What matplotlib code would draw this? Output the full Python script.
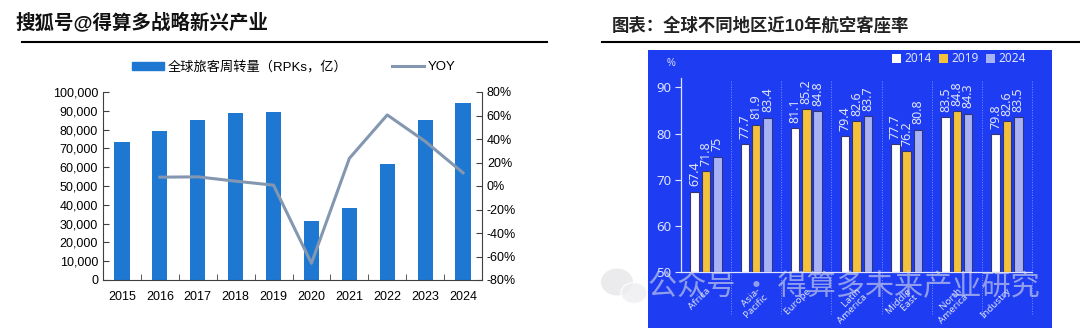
import matplotlib
matplotlib.use("Agg")
import matplotlib.pyplot as plt
import numpy as np
from matplotlib.patches import Rectangle, Ellipse, Patch
from matplotlib.lines import Line2D
from matplotlib.ticker import FuncFormatter, FixedLocator

plt.rcParams['font.family'] = ['Liberation Sans', 'Noto Sans CJK SC', 'DejaVu Sans']

# left chart: global RPKs (亿) and YOY
years = ['2015', '2016', '2017', '2018', '2019', '2020', '2021', '2022', '2023', '2024']
rpks = [73500, 79000, 85200, 88700, 89300, 31200, 38500, 61500, 84900, 94300]
yoy = [None, 7.5, 7.8, 4.1, 0.7, -65.8, 23.5, 60.5, 38.0, 11.2]

# right chart: load factor by region
regions = ['Africa', 'Asia-\nPacific', 'Europe', 'Latin\nAmerica', 'Middle\nEast', 'North\nAmerica', 'Industry']
lf_years = ['2014', '2019', '2024']
lf_2014 = [67.4, 77.7, 81.1, 79.4, 77.7, 83.5, 79.8]
lf_2019 = [71.8, 81.9, 85.2, 82.6, 76.2, 84.8, 82.6]
lf_2024 = [75, 83.4, 84.8, 83.7, 80.8, 84.3, 83.5]

W, H = 1080, 330
fig = plt.figure(figsize=(10.8, 3.3), dpi=100)
fig.patch.set_facecolor('white')


def fx(px):
    return px / W


def fy(py):
    return 1 - py / H


# ---- headers
fig.text(fx(15), fy(22), '搜狐号@得算多战略新兴产业', fontsize=14, fontweight='bold',
         color='#111111', va='center', ha='left')
fig.add_artist(Line2D([fx(22), fx(547)], [fy(42), fy(42)], color='black', lw=1.5))
fig.text(fx(612), fy(25), '图表：全球不同地区近10年航空客座率', fontsize=12.5, fontweight='bold',
         color='#222222', va='center', ha='left')
fig.add_artist(Line2D([fx(602), fx(1080)], [fy(42), fy(42)], color='black', lw=1.5))

# ---- left chart
bar_c = '#1E78D2'
line_c = '#8497B0'
ax = fig.add_axes([fx(103), fy(280), fx(482) - fx(103), fy(92) - fy(280)])
x = np.arange(len(years))
ax.bar(x, rpks, width=0.4, color=bar_c, zorder=2)
ax.set_xlim(-0.5, len(years) - 0.5)
ax.set_ylim(0, 100000)
ax.set_yticks(np.arange(0, 100001, 10000))
ax.yaxis.set_major_formatter(FuncFormatter(lambda v, p: f'{int(v):,}'))
ax.set_xticks(x)
ax.set_xticklabels(years)
ax.xaxis.set_minor_locator(FixedLocator(np.arange(0.5, len(years) - 1, 1)))
ax.tick_params(axis='x', which='major', length=0, pad=8, labelsize=9)
ax.tick_params(axis='x', which='minor', length=4, direction='in', color='#404040')
ax.tick_params(axis='y', length=4, direction='in', labelsize=9, color='#404040')
for s in ['top', 'right']:
    ax.spines[s].set_visible(False)
for s in ['left', 'bottom']:
    ax.spines[s].set_color('#404040')

ax2 = ax.twinx()
yx = [i for i, v in enumerate(yoy) if v is not None]
yv = [v for v in yoy if v is not None]
ax2.plot(yx, yv, color=line_c, lw=2.2, zorder=3)
ax2.set_ylim(-80, 80)
ax2.set_yticks(np.arange(-80, 81, 20))
ax2.yaxis.set_major_formatter(FuncFormatter(lambda v, p: f'{int(v)}%'))
ax2.tick_params(axis='y', length=4, direction='in', labelsize=9, color='#404040')
for s in ['top', 'left', 'bottom']:
    ax2.spines[s].set_visible(False)
ax2.spines['right'].set_color('#404040')

handles = [Patch(color=bar_c), Line2D([0], [0], color=line_c, lw=2.2)]
fig.legend(handles, ['全球旅客周转量（RPKs，亿）', 'YOY'], loc='center left',
           bbox_to_anchor=(fx(120), fy(67)), ncol=2, frameon=False, fontsize=9.5,
           handlelength=2.4, handleheight=0.6, columnspacing=3.4, handletextpad=0.3)

# ---- right chart
bg = '#1E3DF2'
light = '#dfe3ff'
fig.add_artist(Rectangle((fx(648), fy(328)), fx(1052) - fx(648), fy(50) - fy(328),
                         transform=fig.transFigure, facecolor=bg, edgecolor='none', zorder=0))

rx = fig.add_axes([fx(681), fy(272.3), fx(1032) - fx(681), fy(78) - fy(272.3)])
rx.set_facecolor('none')
g = np.arange(len(regions))
off = 0.227
bw = 0.17
cols = ['#ffffff', '#F4C13A', '#A8B3F5']
edge = '#34347a'
for k, (vals, c) in enumerate(zip([lf_2014, lf_2019, lf_2024], cols)):
    pos = g + (k - 1) * off
    rx.bar(pos, np.array(vals) - 50, bottom=50, width=bw, color=c, edgecolor=edge,
           linewidth=0.8, zorder=3)
    for p, v in zip(pos, vals):
        rx.annotate(f'{v:g}', (p, v), xytext=(0, 4), textcoords='offset points',
                    rotation=90, ha='center', va='bottom', fontsize=9, color=light,
                    family=['Noto Sans', 'DejaVu Sans'])

rx.set_xlim(-0.5, len(regions) - 0.5)
rx.set_ylim(50, 92)
rx.set_yticks([50, 60, 70, 80, 90])
rx.set_xticks(g)
rx.set_xticklabels(regions, rotation=45, ha='right', va='top', rotation_mode='anchor',
                   fontsize=7, color=light, linespacing=1.0, family=['Noto Sans', 'DejaVu Sans'])
rx.tick_params(axis='x', length=0, pad=10)
rx.tick_params(axis='y', length=4, direction='out', color=light, labelcolor=light,
               labelsize=9.5, pad=3)
for t in rx.get_yticklabels():
    t.set_family(['Noto Sans', 'DejaVu Sans'])
for s in ['top', 'right']:
    rx.spines[s].set_visible(False)
for s in ['left', 'bottom']:
    rx.spines[s].set_color(light)
    rx.spines[s].set_linewidth(0.9)
for b in np.arange(0.5, len(regions), 1):
    rx.plot([b, b], [41, 91.6], color='#7f90ff', lw=0.7, ls=':', clip_on=False, zorder=1)

fig.text(fx(671), fy(63), '%', fontsize=7, color=light, ha='center', va='center')

lh = [Patch(facecolor=c, edgecolor='none') for c in cols]
fig.legend(lh, lf_years, loc='center right', bbox_to_anchor=(fx(1036), fy(59)), ncol=3,
           frameon=False, labelcolor=light, handlelength=0.8,
           handleheight=0.8, handletextpad=0.25, columnspacing=0.6,
           prop={'family': ['Noto Sans', 'DejaVu Sans'], 'size': 8.5})

# ---- watermark
wm = '#dcdee8'
fig.add_artist(Ellipse((fx(617), fy(282)), fx(32), 27 / H, transform=fig.transFigure,
                       facecolor='#e6e6ea', edgecolor='none', alpha=0.8, zorder=5))
fig.add_artist(Ellipse((fx(634), fy(293)), fx(26), 21 / H, transform=fig.transFigure,
                       facecolor='#eeeef2', edgecolor='white', lw=1, alpha=0.8, zorder=5))
fig.text(fx(648), fy(287), '公众号 · 得算多未来产业研究', fontsize=21, color=wm, alpha=0.6,
         ha='left', va='center', zorder=6, family=['Noto Sans CJK SC', 'DejaVu Sans'])

fig.savefig('out.png', dpi=100)
